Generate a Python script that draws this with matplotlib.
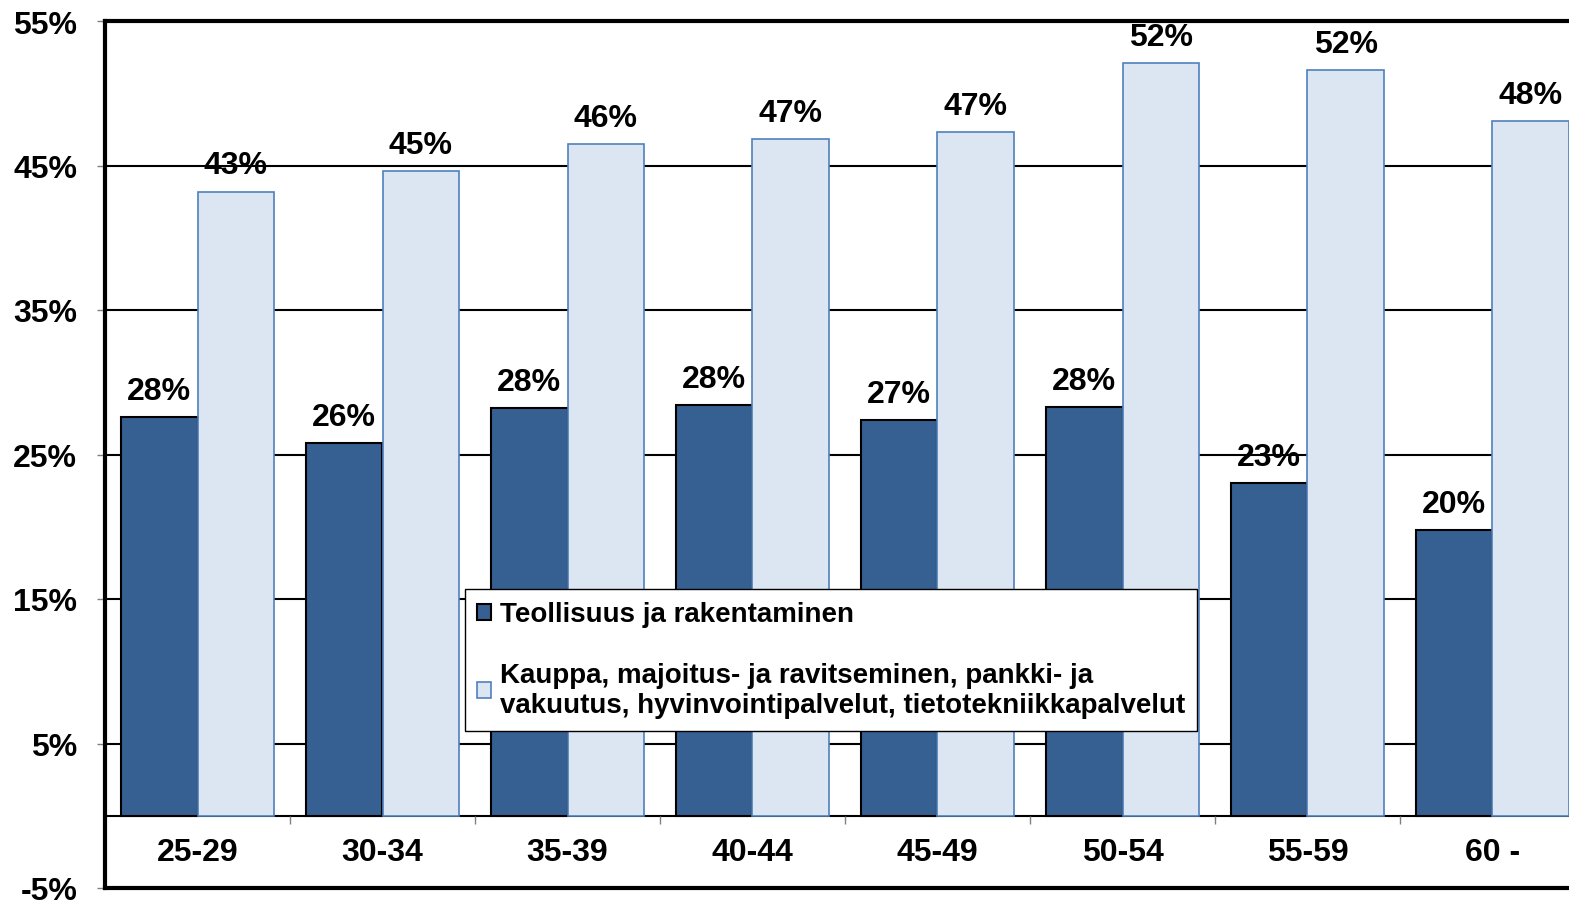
import matplotlib.pyplot as plt
import numpy as np

ages = ['25-29', '30-34', '35-39', '40-44', '45-49', '50-54', '55-59', '60 -']
teollisuus = [27.6, 25.8, 28.2, 28.4, 27.4, 28.3, 23.0, 19.8]
palvelut = [43.2, 44.6, 46.5, 46.8, 47.3, 52.1, 51.6, 48.1]
series_names = ['Teollisuus ja rakentaminen',
                'Kauppa, majoitus- ja ravitseminen, pankki- ja\nvakuutus, hyvinvointipalvelut, tietotekniikkapalvelut']
yticks = [-5, 5, 15, 25, 35, 45, 55]

plt.rcParams['font.family'] = ['Liberation Sans', 'DejaVu Sans']
plt.rcParams['font.weight'] = 'bold'

W, H = 1569, 903
fig = plt.figure(figsize=(W / 100, H / 100), dpi=100)
# right edge of the plot area is cut off in the original
ax = fig.add_axes([105 / W, 1 - 889 / H, (1585 - 105) / W, (889 - 22) / H])

x = np.arange(len(ages))
bw = 0.416
dark = '#376092'
light = '#dce6f2'

ax.set_axisbelow(True)
ax.yaxis.grid(True, color='black', linewidth=1.5)
b1 = ax.bar(x - bw / 2, teollisuus, bw, color=dark, edgecolor='black', linewidth=1.5, zorder=3)
b2 = ax.bar(x + bw / 2, palvelut, bw, color=light, edgecolor='#4f81bd', linewidth=1.2, zorder=3)

for bars, vals in ((b1, teollisuus), (b2, palvelut)):
    for rect, v in zip(bars, vals):
        ax.annotate('%d%%' % round(v), (rect.get_x() + rect.get_width() / 2, v),
                    xytext=(0, 8), textcoords='offset points', ha='center', va='bottom',
                    fontsize=23, fontweight='bold', zorder=5)

ax.axhline(0, color='black', linewidth=1.5, zorder=2)
ax.vlines(np.arange(len(ages) + 1) - 0.5, -0.55, 0, color='#808080', linewidth=1)
for i, a in enumerate(ages):
    ax.text(i, -2.5, a, ha='center', va='center', fontsize=23, fontweight='bold')

ax.set_xlim(-0.5, 7.5)
ax.set_ylim(-5, 55)
ax.set_xticks([])
ax.set_yticks(yticks)
ax.set_yticklabels(['%d%%' % t for t in yticks], fontsize=23, fontweight='bold')
ax.tick_params(axis='y', direction='out', length=6, width=1, color='#808080', pad=14)
for s in ax.spines.values():
    s.set_linewidth(3)
ax.spines['right'].set_visible(False)

leg = ax.legend([b1, b2], series_names, loc='upper left',
                bbox_to_anchor=(465 / W, 1 - 590 / H), bbox_transform=fig.transFigure,
                borderaxespad=0, fancybox=False, framealpha=1, edgecolor='black',
                prop={'size': 20, 'weight': 'bold'}, handlelength=0.5, handleheight=0.5,
                handletextpad=0.3, labelspacing=1.25, borderpad=0.45)
leg.get_frame().set_linewidth(1)
leg.set_zorder(10)

fig.savefig('out.png', dpi=100)
